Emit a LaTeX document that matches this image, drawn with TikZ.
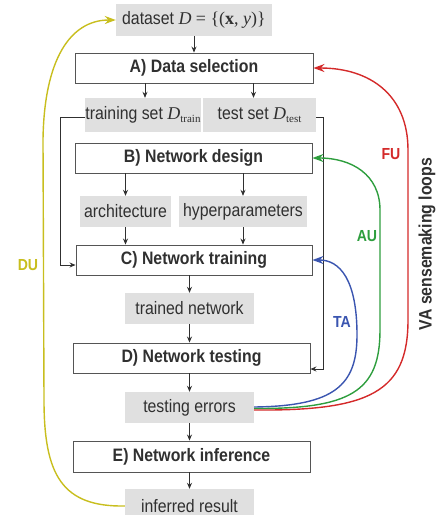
\documentclass[tikz,border=0pt]{standalone}
\usepackage{fontspec}
\setmainfont{Liberation Sans}[FakeStretch=0.88]
\newfontfamily\tms{Liberation Serif}
\usetikzlibrary{arrows.meta}
\definecolor{boxgrey}{HTML}{E0E0E0}
\definecolor{edge}{HTML}{555555}
\definecolor{ink}{HTML}{303030}
\definecolor{duyellow}{HTML}{C8BE1E}
\definecolor{fured}{HTML}{D42A2A}
\definecolor{augreen}{HTML}{2E9E3E}
\definecolor{tablue}{HTML}{3A55B0}
\newcommand\boxfont{\fontsize{18}{20}\selectfont}
\newcommand\subtxt[1]{{\tms\fontsize{11}{11}\selectfont\raisebox{-2.5pt}{#1}}}
\tikzset{
  stage/.style={draw=edge, line width=0.9pt, fill=white, minimum height=30pt,
    inner sep=0pt, text=ink, font=\bfseries\boxfont},
  data/.style={fill=boxgrey, inner sep=0pt, text=ink, font=\boxfont},
  arr/.style={-{Stealth[length=6pt,width=5pt]}, line width=0.8pt, draw=ink},
  valoop/.style={-{Stealth[length=11pt,width=8pt]}, line width=1.4pt},
  looplabel/.style={font=\bfseries\fontsize{16}{17}\selectfont, inner sep=0pt},
}
\begin{document}
\begin{tikzpicture}[x=1pt,y=-1pt]
\useasboundingbox (0,0) rectangle (438,515);
\clip (0,0) rectangle (438,515);

% pipeline boxes
\node[data, minimum width=156pt, minimum height=32pt] (ds) at (194,20)
  {dataset {\tms\itshape D} {\tms= \{(\textbf{x}, \textit{y})\}}};
\node[stage, minimum width=238pt] (A) at (194,68) {A) Data selection};
\node[data, minimum width=112pt, minimum height=34pt] (tr) at (143,115)
  {training set {\tms\itshape D}\subtxt{train}};
\node[data, minimum width=113pt, minimum height=34pt] (te) at (259.5,115)
  {test set {\tms\itshape D}\subtxt{test}};
\node[stage, minimum width=237pt] (B) at (193.5,158) {B) Network design};
\node[data, minimum width=91pt, minimum height=31pt] (ar) at (125.5,211.5) {architecture};
\node[data, minimum width=128pt, minimum height=31pt] (hp) at (243,211.5) {hyperparameters};
\node[stage, minimum width=236pt] (C) at (194,260) {C) Network training};
\node[data, minimum width=129pt, minimum height=31pt] (tn) at (189.5,308.5) {trained network};
\node[stage, minimum width=237pt] (D) at (191.5,358) {D) Network testing};
\node[data, minimum width=129pt, minimum height=31pt] (terr) at (189.5,407.5) {testing errors};
\node[stage, minimum width=237pt, minimum height=31pt] (E) at (191.5,456.5) {E) Network inference};
\node[data, minimum width=129pt, minimum height=34pt] (ir) at (189.5,506) {inferred result};

% main flow
\draw[arr] (ds.south) -- (A.north);
\draw[arr] ([xshift=2pt]tr.north |- A.south) -- ([xshift=2pt]tr.north);
\draw[arr] ([xshift=-6pt]te.north |- A.south) -- ([xshift=-6pt]te.north);
\draw[arr] (ar.north |- B.south) -- (ar.north);
\draw[arr] (hp.north |- B.south) -- (hp.north);
\draw[arr] (ar.south) -- (ar.south |- C.north);
\draw[arr] (hp.south) -- (hp.south |- C.north);
\draw[arr] (tn.north |- C.south) -- (tn.north);
\draw[arr] (tn.south) -- (tn.south |- D.north);
\draw[arr] (terr.north |- D.south) -- (terr.north);
\draw[arr] (terr.south) -- (terr.south |- E.north);
\draw[arr] (ir.north |- E.south) -- (ir.north);

% data split feeding training and testing
\coordinate (trl) at ([yshift=-2pt]tr.west);
\coordinate (tel) at ([yshift=-2pt]te.east);
\draw[arr] (trl) -- (60,117) |- ([yshift=-5pt]C.west);
\draw[arr] (tel) -- (323,117) |- ([yshift=-11pt]D.east);

% VA sensemaking loops
\draw[valoop, draw=tablue] ([yshift=0.5pt]terr.east)
  .. controls (335,406) and (357,385) .. (357,335)
  .. controls (357,280) and (340,260) .. (C.east);
\draw[valoop, draw=augreen] ([yshift=-1pt]terr.east)
  .. controls (350,409) and (380,392) .. (380,330)
  -- (380,210) .. controls (380,175) and (352,158) .. (B.east);
\draw[valoop, draw=fured] ([yshift=-2.5pt]terr.east)
  .. controls (370,411) and (408,392) .. (408,320)
  -- (408,150) .. controls (408,95) and (370,68) .. (A.east);
\draw[valoop, draw=duyellow] (ir.west)
  .. controls (62,507) and (44,475) .. (44,400)
  -- (43,140) .. controls (44,60) and (70,20) .. (ds.west);

% loop labels
\node[looplabel, text=duyellow] (du) at (28,265) {DU};
\node[looplabel, text=fured] (fu) at (391,154) {FU};
\node[looplabel, text=augreen] (au) at (367,236) {AU};
\node[looplabel, text=tablue] (ta) at (342,322) {TA};
\node[font=\bfseries\boxfont, text=ink, rotate=90, inner sep=0pt] (va) at (427,244)
  {VA sensemaking loops};
\end{tikzpicture}
\end{document}
